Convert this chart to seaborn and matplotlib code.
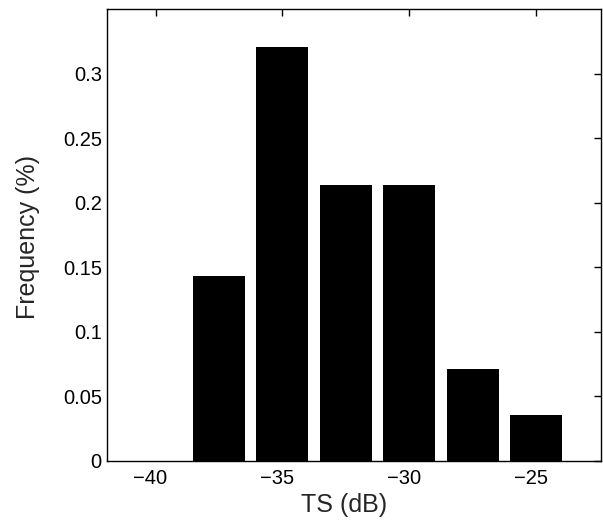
import pandas as pd
import matplotlib.pyplot as plt
import matplotlib.transforms as mtransforms
import seaborn as sns

# histogram bin centres (dB) and relative frequency
ts_centres = [-40.0, -37.5, -35.0, -32.5, -30.0, -27.5, -25.0]
frequency = [0.0, 0.143, 0.321, 0.214, 0.214, 0.071, 0.036]

x_ticks = [-40, -35, -30, -25]
y_ticks = [0, 0.05, 0.1, 0.15, 0.2, 0.25, 0.3]
y_tick_labels = ["0", "0.05", "0.1", "0.15", "0.2", "0.25", "0.3"]

df = pd.DataFrame({"TS": ts_centres, "Frequency": frequency})

sns.set_style("white")
plt.rcParams["font.family"] = ["Liberation Sans", "DejaVu Sans"]
plt.rcParams["axes.unicode_minus"] = True

fig = plt.figure(figsize=(6.03, 5.20), dpi=100)
ax = fig.add_axes([0.178, 0.1135, 0.818, 0.8685])

sns.barplot(data=df, x="TS", y="Frequency", native_scale=True, width=0.82,
            color="black", saturation=1, linewidth=0, ax=ax)

ax.set_xlim(-41.9, -22.45)
ax.set_ylim(0, 0.35)
ax.set_xticks(x_ticks)
ax.set_yticks(y_ticks)
ax.set_yticklabels(y_tick_labels)
ax.tick_params(direction="in", length=5, width=1, labelsize=14.5,
               top=True, right=True, colors="black", pad=4)
ax.tick_params(axis="x", pad=6)
for s in ax.spines.values():
    s.set_visible(True)
    s.set_color("black")
    s.set_linewidth(1)

# x tick labels sit a little left of their ticks in the original
shift = mtransforms.ScaledTranslation(-5 / 100, 0, fig.dpi_scale_trans)
for lbl in ax.get_xticklabels():
    lbl.set_transform(lbl.get_transform() + shift)

ax.set_xlabel("TS (dB)", fontsize=18)
ax.set_ylabel("Frequency (%)", fontsize=18)
ax.xaxis.set_label_coords(0.479, -0.072)
ax.yaxis.set_label_coords(-0.137, 0.497)

fig.savefig("out.png", dpi=100)
plt.close(fig)
